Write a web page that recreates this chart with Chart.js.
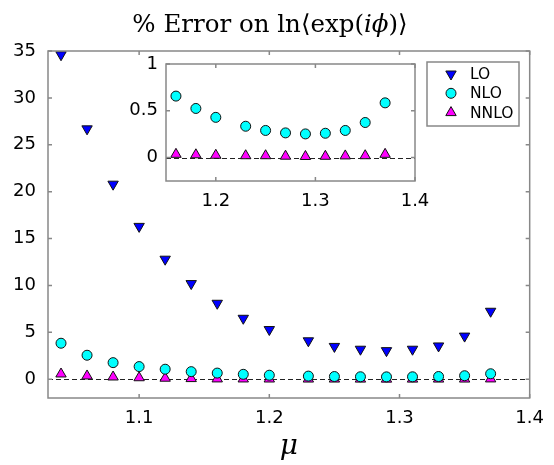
<!DOCTYPE html>
<html>
<head>
<meta charset="utf-8">
<script src="https://cdn.jsdelivr.net/npm/chart.js@4.4.1/dist/chart.umd.min.js"></script>
<style>
html, body { margin: 0; padding: 0; background: #fff; }
#wrap { position: relative; width: 554px; height: 465px; }
#wrap canvas { position: absolute; left: 0; top: 0; }
</style>
</head>
<body>
<div id="wrap">
  <canvas id="main" width="554" height="465"></canvas>
  <canvas id="inset" width="554" height="465"></canvas>
</div>
<script>
// chemical potential values and % errors for each order
const mu = [1.04, 1.06, 1.08, 1.10, 1.12, 1.14, 1.16, 1.18, 1.20, 1.23, 1.25, 1.27, 1.29, 1.31, 1.33, 1.35, 1.37];
const loErr = [34.6, 26.7, 20.8, 16.3, 12.8, 10.2, 8.1, 6.5, 5.3, 4.1, 3.5, 3.2, 3.05, 3.2, 3.55, 4.6, 7.25];
const nloErr = [3.84, 2.56, 1.77, 1.35, 1.07, 0.81, 0.657, 0.525, 0.43, 0.335, 0.29, 0.264, 0.253, 0.26, 0.29, 0.375, 0.585];
const nnloErr = [0.56, 0.35, 0.24, 0.16, 0.11, 0.07, 0.035, 0.03, 0.025, 0.02, 0.02, 0.015, 0.012, 0.014, 0.018, 0.02, 0.035];
const seriesNames = ["LO", "NLO", "NNLO"];

const mainXTicks = [1.1, 1.2, 1.3, 1.4];
const mainYTicks = [0, 5, 10, 15, 20, 25, 30, 35];
const insetXTicks = [1.2, 1.3, 1.4];
const insetYTicks = [0, 0.5, 1];

const tickFont = { family: "DejaVu Sans", size: 18 };
const frameColor = "#888";

function points(ys, minX) {
    return mu.map((m, i) => ({ x: m, y: ys[i] })).filter(p => p.x >= minX);
}

function makeDatasets(minX, withLO) {
    let sets = [];
    if (withLO) {
        sets.push({ label: seriesNames[0], data: points(loErr, minX), pointStyle: "triangle",
            rotation: 180, pointRadius: 6, backgroundColor: "#0000ff", borderColor: "#111", borderWidth: 1 });
    }
    sets.push({ label: seriesNames[1], data: points(nloErr, minX), pointStyle: "circle",
        pointRadius: 5, backgroundColor: "#00ffff", borderColor: "#111", borderWidth: 1 });
    sets.push({ label: seriesNames[2], data: points(nnloErr, minX), pointStyle: "triangle",
        pointRadius: 6, backgroundColor: "#ff00ff", borderColor: "#111", borderWidth: 1 });
    return sets;
}

// white area, dashed zero line, gray frame with inward ticks
const framePlugin = {
    id: "frame",
    beforeDraw(chart, args, opts) {
        const a = chart.chartArea, ctx = chart.ctx;
        if (opts.fill) {
            ctx.save();
            ctx.fillStyle = "#fff";
            ctx.fillRect(a.left, a.top, a.right - a.left, a.bottom - a.top);
            ctx.restore();
        }
    },
    beforeDatasetsDraw(chart) {
        const a = chart.chartArea, ctx = chart.ctx;
        const y0 = Math.round(chart.scales.y.getPixelForValue(0)) + 0.5;
        ctx.save();
        ctx.strokeStyle = "#222";
        ctx.lineWidth = 1;
        ctx.setLineDash([5, 3]);
        ctx.beginPath();
        ctx.moveTo(a.left, y0);
        ctx.lineTo(a.right, y0);
        ctx.stroke();
        ctx.restore();
    },
    afterDraw(chart) {
        const a = chart.chartArea, ctx = chart.ctx;
        ctx.save();
        ctx.strokeStyle = frameColor;
        ctx.lineWidth = 1.5;
        ctx.beginPath();
        chart.scales.x.ticks.forEach(t => {
            let px = chart.scales.x.getPixelForValue(t.value);
            ctx.moveTo(px, a.bottom); ctx.lineTo(px, a.bottom - 4);
            ctx.moveTo(px, a.top); ctx.lineTo(px, a.top + 4);
        });
        chart.scales.y.ticks.forEach(t => {
            let py = chart.scales.y.getPixelForValue(t.value);
            ctx.moveTo(a.left, py); ctx.lineTo(a.left + 4, py);
            ctx.moveTo(a.right, py); ctx.lineTo(a.right - 4, py);
        });
        ctx.stroke();
        ctx.strokeRect(a.left, a.top, a.right - a.left, a.bottom - a.top);
        ctx.restore();
    }
};

// boxed legend in the top right corner of the main plot
const boxLegend = {
    id: "boxLegend",
    afterDraw(chart) {
        const ctx = chart.ctx;
        const left = 427, top = 62, w = 92, h = 64;
        ctx.save();
        ctx.fillStyle = "#fff";
        ctx.fillRect(left, top, w, h);
        ctx.strokeStyle = frameColor;
        ctx.lineWidth = 1.5;
        ctx.strokeRect(left, top, w, h);
        ctx.font = "15.5px 'DejaVu Sans'";
        ctx.textBaseline = "middle";
        chart.data.datasets.forEach((ds, i) => {
            let y = top + 12 + i * 19.3;
            ctx.fillStyle = ds.backgroundColor;
            ctx.strokeStyle = ds.borderColor;
            ctx.lineWidth = 1;
            Chart.helpers.drawPoint(ctx, { pointStyle: ds.pointStyle, rotation: ds.rotation || 0,
                radius: ds.pointRadius, borderWidth: 1 }, left + 24, y);
            ctx.fillStyle = "#000";
            ctx.fillText(ds.label, left + 43, y + 1);
        });
        ctx.restore();
    }
};

// title with italic i and phi
const mathTitle = {
    id: "mathTitle",
    afterDraw(chart) {
        const ctx = chart.ctx;
        const parts = [["% Error on ln\u27E8exp(", false], ["i\u03D5", true], [")\u27E9", false]];
        const size = 24.5;
        ctx.save();
        ctx.fillStyle = "#000";
        ctx.textBaseline = "alphabetic";
        let total = 0;
        parts.forEach(([s, it]) => {
            ctx.font = (it ? "italic " : "") + size + "px 'DejaVu Serif'";
            total += ctx.measureText(s).width;
        });
        let x = 270 - total / 2;
        parts.forEach(([s, it]) => {
            ctx.font = (it ? "italic " : "") + size + "px 'DejaVu Serif'";
            ctx.fillText(s, x, 32);
            x += ctx.measureText(s).width;
        });
        ctx.restore();
    }
};

function axisX(min, max, tickList, height, pad, title) {
    let ax = {
        type: "linear", min: min, max: max,
        afterBuildTicks: s => { s.ticks = tickList.map(v => ({ value: v })); },
        afterFit: s => { s.height = height; },
        grid: { display: false, drawTicks: false },
        border: { display: false },
        ticks: { padding: pad, font: tickFont, color: "#000", callback: v => v.toFixed(1) }
    };
    if (title) {
        ax.title = { display: true, text: title, color: "#000",
            font: { family: "DejaVu Serif", style: "italic", size: 28 }, padding: { top: 0, bottom: 1 } };
    }
    return ax;
}

function axisY(min, max, tickList, width, pad) {
    return {
        min: min, max: max,
        afterBuildTicks: s => { s.ticks = tickList.map(v => ({ value: v })); },
        afterFit: s => { s.width = width; },
        grid: { display: false, drawTicks: false },
        border: { display: false },
        ticks: { padding: pad, font: tickFont, color: "#000", callback: v => String(v) }
    };
}

new Chart(document.getElementById("main").getContext("2d"), {
    type: "scatter",
    data: { datasets: makeDatasets(0, true) },
    options: {
        responsive: false,
        animation: false,
        layout: { padding: { top: 51, right: 24, left: 0, bottom: 0 } },
        plugins: { legend: { display: false }, tooltip: { enabled: false }, frame: { fill: false } },
        scales: {
            x: axisX(1.03, 1.4, mainXTicks, 67, 10, "\u03BC"),
            y: axisY(-2, 35, mainYTicks, 48, 12)
        }
    },
    plugins: [framePlugin, boxLegend, mathTitle]
});

new Chart(document.getElementById("inset").getContext("2d"), {
    type: "scatter",
    data: { datasets: makeDatasets(1.15, false) },
    options: {
        responsive: false,
        animation: false,
        layout: { padding: { top: 64, right: 139, left: 0, bottom: 254 } },
        plugins: { legend: { display: false }, tooltip: { enabled: false }, frame: { fill: true } },
        scales: {
            x: axisX(1.15, 1.4, insetXTicks, 30, 10, null),
            y: axisY(-0.25, 1, insetYTicks, 166, 8)
        }
    },
    plugins: [framePlugin]
});
</script>
</body>
</html>
